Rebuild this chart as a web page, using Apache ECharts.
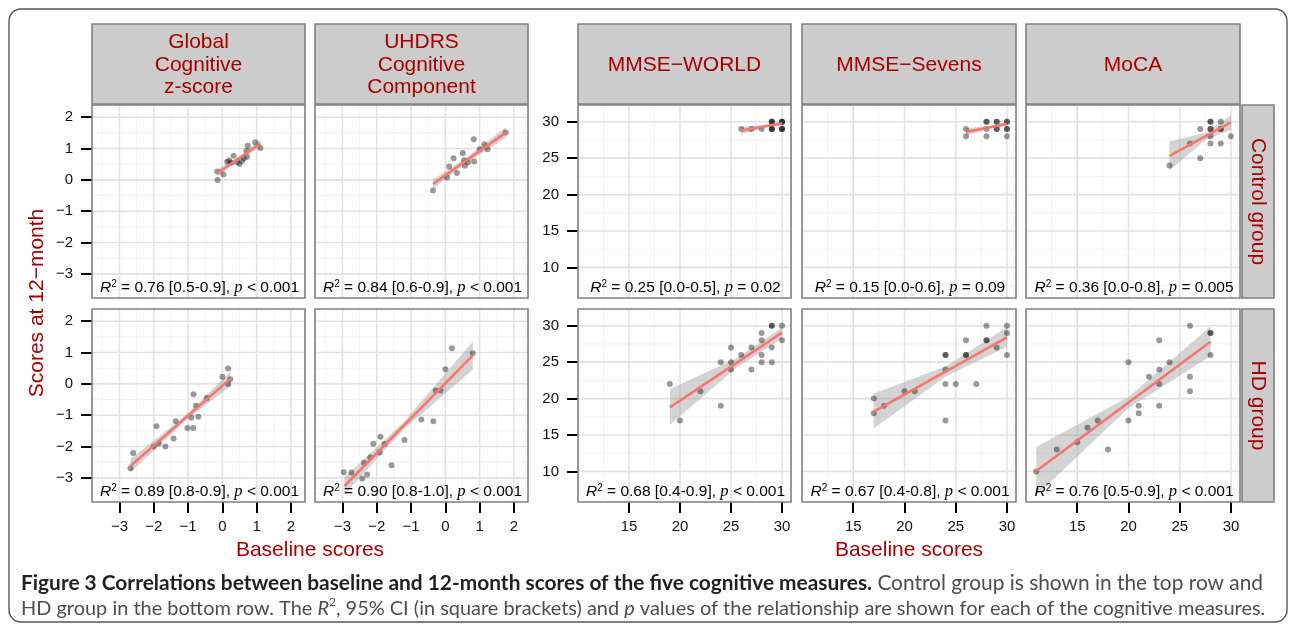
<!DOCTYPE html>
<html><head><meta charset="utf-8">
<script src="https://cdn.jsdelivr.net/npm/echarts@6/dist/echarts.min.js"></script>
<style>html,body{margin:0;padding:0;background:#fff}#c{width:1290px;height:630px}</style>
</head><body><div id="c"></div>
<script>
// ---------------- DATA ----------------
const panelTitles = ['Global\nCognitive\nz-score', 'UHDRS\nCognitive\nComponent', 'MMSE\u2212WORLD', 'MMSE\u2212Sevens', 'MoCA'];
const groupTitles = ['Control group', 'HD group'];
const yAxisTitle = 'Scores at 12\u2212month';
const xAxisTitle = 'Baseline scores';

const zTicks = [-3, -2, -1, 0, 1, 2];
const zMinor = [-3.5, -2.5, -1.5, -0.5, 0.5, 1.5];
const scoreXTicks = [15, 20, 25, 30];
const scoreXMinor = [12.5, 17.5, 22.5, 27.5];
const scoreYTicks = [10, 15, 20, 25, 30];
const scoreYMinor = [7.5, 12.5, 17.5, 22.5, 27.5];

// Control group (baseline x, 12-month y)
const globalCtrlX = [-0.15, -0.14, 0.03, 0.14, 0.2, 0.26, 0.33, 0.43, 0.5, 0.57, 0.63, 0.7, 0.72, 0.74, 0.96, 1.11];
const globalCtrlY = [0.27, 0.0, 0.17, 0.58, 0.62, 0.55, 0.77, 0.56, 0.51, 0.6, 0.68, 0.93, 0.74, 1.09, 1.2, 1.02];
const uhdrsCtrlX = [-0.36, 0.05, 0.11, 0.24, 0.34, 0.51, 0.55, 0.57, 0.66, 0.83, 0.84, 1.0, 1.14, 1.23, 1.76];
const uhdrsCtrlY = [-0.34, 0.08, 0.43, 0.69, 0.22, 0.86, 0.63, 0.45, 0.56, 1.3, 0.59, 0.98, 1.14, 0.98, 1.51];
const worldCtrlX = [26, 27, 28, 29, 29, 29, 29, 29, 29, 30, 30, 30, 30, 30, 30];
const worldCtrlY = [29, 29, 29, 30, 30, 30, 29, 29, 29, 30, 30, 30, 29, 29, 29];
const sevensCtrlX = [26, 26, 28, 28, 28, 28, 29, 29, 29, 29, 30, 30, 30, 30, 30];
const sevensCtrlY = [29, 28, 30, 30, 29, 28, 30, 30, 29, 29, 30, 30, 29, 29, 28];
const mocaCtrlX = [24, 26, 27, 27, 28, 28, 28, 28, 28, 28, 29, 29, 29, 29, 30];
const mocaCtrlY = [24, 27, 29, 25, 30, 30, 29, 29, 28, 27, 30, 29, 29, 27, 28];

// HD group
const globalHdX = [-2.68, -2.6, -2.0, -1.92, -1.85, -1.66, -1.42, -1.36, -1.02, -0.9, -0.85, -0.84, -0.77, -0.7, -0.45, 0.0, 0.17, 0.17, 0.23];
const globalHdY = [-2.69, -2.21, -2.0, -1.35, -1.9, -2.0, -1.74, -1.19, -1.41, -1.08, -1.41, -0.33, -0.7, -1.05, -0.45, 0.23, 0.49, 0.0, 0.15];
const uhdrsHdX = [-2.96, -2.74, -2.42, -2.37, -2.28, -2.19, -2.1, -1.92, -1.89, -1.77, -1.57, -1.19, -0.7, -0.35, -0.28, -0.14, 0.0, 0.19, 0.8];
const uhdrsHdY = [-2.82, -2.83, -3.02, -2.52, -2.89, -2.35, -1.91, -2.19, -1.69, -1.92, -2.6, -1.79, -1.14, -1.19, -0.21, -0.21, 0.47, 1.14, 0.98];
const worldHdX = [19, 20, 22, 24, 24, 25, 25, 25, 26, 27, 27, 28, 28, 28, 28, 29, 29, 29, 29, 30, 30];
const worldHdY = [22, 17, 21, 25, 19, 27, 25, 24, 26, 27, 24, 29, 28, 26, 25, 30, 30, 27, 25, 30, 28];
const sevensHdX = [17, 17, 18, 20, 21, 24, 24, 24, 24, 24, 25, 26, 26, 26, 27, 28, 28, 28, 29, 30, 30, 30];
const sevensHdY = [20, 18, 19, 21, 21, 26, 26, 24, 22, 17, 22, 28, 26, 26, 22, 30, 28, 28, 27, 30, 29, 26];
const mocaHdX = [11, 13, 15, 16, 17, 18, 20, 20, 21, 21, 22, 23, 23, 23, 23, 24, 26, 26, 26, 28, 28, 28];
const mocaHdY = [10, 13, 14, 16, 17, 13, 25, 17, 19, 18, 23, 28, 24, 22, 19, 25, 30, 23, 21, 29, 29, 26];

// Fitted lines
const ctrlFitStartX = [-0.15, -0.36, 26, 26, 24];
const ctrlFitEndX   = [1.11, 1.76, 30, 30, 30];
const ctrlFitStartY = [0.21, -0.13, 28.8, 28.6, 25.3];
const ctrlFitEndY   = [1.16, 1.51, 29.8, 29.7, 29.9];
const hdFitStartX = [-2.68, -2.94, 19, 17, 11];
const hdFitEndX   = [0.23, 0.80, 30, 30, 28];
const hdFitStartY = [-2.62, -3.26, 18.8, 18.2, 10.05];
const hdFitEndY   = [0.16, 0.91, 29.05, 28.4, 27.8];

// 95% confidence bands: [start, middle, end]
const ctrlBandMidX = [0.5, 0.6, 28.5, 28.5, 27.5];
const ctrlBandUpper = [[0.32, 0.76, 1.28], [0.02, 0.70, 1.68], [29.3, 29.6, 30.1], [29.1, 29.45, 30.0], [27.3, 28.5, 30.9]];
const ctrlBandLower = [[0.10, 0.64, 1.04], [-0.28, 0.52, 1.34], [28.3, 29.25, 29.5], [28.1, 29.1, 29.4], [23.3, 27.5, 28.9]];
const hdBandMidX = [-1.1, -1.2, 25.5, 24, 20];
const hdBandUpper = [[-2.40, -1.03, 0.38], [-2.98, -1.20, 1.35], [21.3, 25.5, 29.75], [20.7, 24.4, 29.8], [13.4, 20.2, 29.9]];
const hdBandLower = [[-2.84, -1.19, -0.08], [-3.52, -1.44, 0.45], [16.4, 24.2, 28.2], [15.9, 23.0, 27.1], [6.7, 18.7, 25.8]];

// Statistics text
const ctrlR2 = ['0.76', '0.84', '0.25', '0.15', '0.36'];
const ctrlCI = ['[0.5-0.9]', '[0.6-0.9]', '[0.0-0.5]', '[0.0-0.6]', '[0.0-0.8]'];
const ctrlP  = ['< 0.001', '< 0.001', '= 0.02', '= 0.09', '= 0.005'];
const hdR2 = ['0.89', '0.90', '0.68', '0.67', '0.76'];
const hdCI = ['[0.8-0.9]', '[0.8-1.0]', '[0.4-0.9]', '[0.4-0.8]', '[0.5-0.9]'];
const hdP  = ['< 0.001', '< 0.001', '< 0.001', '< 0.001', '< 0.001'];

const capLine1Bold = 'Figure 3 Correlations between baseline and 12-month scores of the five cognitive measures.';
const capLine1Rest = ' Control group is shown in the top row and';
const capLine2a = 'HD group in the bottom row. The ';
const capLine2b = ', 95% CI (in square brackets) and ';
const capLine2c = ' values of the relationship are shown for each of the cognitive measures.';

// ---------------- LAYOUT ----------------
const FONT = 'Liberation Sans';
const RED = '#a80000';
const cols = [{l: 92, w: 213}, {l: 315, w: 213}, {l: 578, w: 213}, {l: 802, w: 214}, {l: 1026, w: 214}];
const rows = [{t: 105, h: 193}, {t: 309, h: 193}];
const zXRange = [-3.8, 2.41], zYRange = [-3.77, 2.39];
const sXRange = [10.0, 30.88], sYRange = [5.8, 32.3];

const ctrlData = [[globalCtrlX, globalCtrlY], [uhdrsCtrlX, uhdrsCtrlY], [worldCtrlX, worldCtrlY], [sevensCtrlX, sevensCtrlY], [mocaCtrlX, mocaCtrlY]];
const hdData = [[globalHdX, globalHdY], [uhdrsHdX, uhdrsHdY], [worldHdX, worldHdY], [sevensHdX, sevensHdY], [mocaHdX, mocaHdY]];

const minus = v => (v < 0 ? '\u2212' + Math.abs(v) : String(v));

const grids = [], xAxes = [], yAxes = [], series = [], graphics = [];

function gridRender(xMaj, xMin, yMaj, yMin, xr, yr) {
  return function (params, api) {
    const cs = params.coordSys;
    const ch = [];
    const v = (val, major) => {
      const x = api.coord([val, yr[0]])[0];
      ch.push({type: 'line', shape: {x1: x, y1: cs.y, x2: x, y2: cs.y + cs.height},
        style: {stroke: major ? '#e2e2e2' : '#f0f0f0', lineWidth: major ? 1.6 : 0.9}});
    };
    const h = (val, major) => {
      const y = api.coord([xr[0], val])[1];
      ch.push({type: 'line', shape: {x1: cs.x, y1: y, x2: cs.x + cs.width, y2: y},
        style: {stroke: major ? '#e2e2e2' : '#f0f0f0', lineWidth: major ? 1.6 : 0.9}});
    };
    xMin.forEach(a => v(a, false)); yMin.forEach(a => h(a, false));
    xMaj.forEach(a => v(a, true)); yMaj.forEach(a => h(a, true));
    return {type: 'group', children: ch};
  };
}

function bandRender(bx, hi, lo) {
  return function (params, api) {
    const pts = [];
    for (let i = 0; i < bx.length; i++) pts.push(api.coord([bx[i], hi[i]]));
    for (let i = bx.length - 1; i >= 0; i--) pts.push(api.coord([bx[i], lo[i]]));
    return {type: 'polygon', shape: {points: pts}, style: {fill: 'rgba(153,153,153,0.42)'}};
  };
}

for (let r = 0; r < 2; r++) {
  for (let c = 0; c < 5; c++) {
    const idx = r * 5 + c;
    const isZ = c < 2;
    const xr = isZ ? zXRange : sXRange, yr = isZ ? zYRange : sYRange;
    const xt = isZ ? zTicks : scoreXTicks, yt = isZ ? zTicks : scoreYTicks;
    const xm = isZ ? zMinor : scoreXMinor, ym = isZ ? zMinor : scoreYMinor;
    const showX = r === 1, showY = (c === 0 || c === 2);
    grids.push({left: cols[c].l, top: rows[r].t, width: cols[c].w, height: rows[r].h,
      show: true, backgroundColor: '#fff', borderWidth: 0});
    xAxes.push({type: 'value', gridIndex: idx, min: xr[0], max: xr[1], position: 'bottom',
      axisLine: {show: false, onZero: false}, splitLine: {show: false},
      axisTick: {show: showX, length: 11, customValues: xt, lineStyle: {color: '#000', width: 2}},
      axisLabel: {show: showX, customValues: xt, margin: 17, color: '#111', fontSize: 15, fontFamily: FONT, formatter: minus}});
    yAxes.push({type: 'value', gridIndex: idx, min: yr[0], max: yr[1], position: 'left',
      axisLine: {show: false, onZero: false}, splitLine: {show: false},
      axisTick: {show: showY, length: 11, customValues: yt, lineStyle: {color: '#000', width: 2}},
      axisLabel: {show: showY, customValues: yt, margin: 19, color: '#111', fontSize: 15, fontFamily: FONT, formatter: minus}});

    const d = r === 0 ? ctrlData[c] : hdData[c];
    const fsx = r === 0 ? ctrlFitStartX : hdFitStartX, fex = r === 0 ? ctrlFitEndX : hdFitEndX;
    const fsy = r === 0 ? ctrlFitStartY : hdFitStartY, fey = r === 0 ? ctrlFitEndY : hdFitEndY;
    const bm = r === 0 ? ctrlBandMidX : hdBandMidX;
    const bu = r === 0 ? ctrlBandUpper : hdBandUpper, bl = r === 0 ? ctrlBandLower : hdBandLower;

    series.push({type: 'custom', xAxisIndex: idx, yAxisIndex: idx, silent: true, z: 1,
      data: [[xr[0], yr[0]]], renderItem: gridRender(xt, xm, yt, ym, xr, yr)});
    series.push({type: 'custom', xAxisIndex: idx, yAxisIndex: idx, silent: true, z: 2,
      data: [[fsx[c], fsy[c]]], renderItem: bandRender([fsx[c], bm[c], fex[c]], bu[c], bl[c])});
    series.push({type: 'scatter', xAxisIndex: idx, yAxisIndex: idx, z: 3, symbolSize: 6,
      itemStyle: {color: 'rgba(0,0,0,0.5)'}, data: d[0].map((x, i) => [x, d[1][i]])});
    series.push({type: 'line', xAxisIndex: idx, yAxisIndex: idx, z: 4, symbol: 'none',
      lineStyle: {color: '#F8766D', width: 2.6}, data: [[fsx[c], fsy[c]], [fex[c], fey[c]]]});

    // panel border
    graphics.push({type: 'rect', z: 50, shape: {x: cols[c].l, y: rows[r].t, width: cols[c].w, height: rows[r].h},
      style: {fill: 'none', stroke: '#808080', lineWidth: 1.6}});
    // stats annotation
    const r2 = r === 0 ? ctrlR2[c] : hdR2[c], ci = r === 0 ? ctrlCI[c] : hdCI[c], pv = r === 0 ? ctrlP[c] : hdP[c];
    graphics.push({type: 'text', z: 60, x: cols[c].l + cols[c].w / 2 + 1, y: rows[r].t + rows[r].h - 10,
      style: {text: '{i|R}{s|2}{n| = ' + r2 + ' ' + ci + ', }{p|p}{n| ' + pv + '}',
        align: 'center', verticalAlign: 'middle', textAlign: 'center', textVerticalAlign: 'middle',
        rich: {
          n: {fontSize: 15.5, fontFamily: FONT, fill: '#000', lineHeight: 18},
          i: {fontSize: 15.5, fontFamily: FONT, fontStyle: 'italic', fill: '#000', lineHeight: 18},
          s: {fontSize: 10, fontFamily: FONT, fill: '#000', lineHeight: 18, verticalAlign: 'top'},
          p: {fontSize: 16.5, fontFamily: 'Liberation Serif', fontStyle: 'italic', fill: '#000', lineHeight: 18}
        }}});
  }
}

// top strips
for (let c = 0; c < 5; c++) {
  graphics.push({type: 'rect', z: 40, shape: {x: cols[c].l, y: 24, width: cols[c].w, height: 80},
    style: {fill: '#cccccc', stroke: '#808080', lineWidth: 1.6}});
  graphics.push({type: 'text', z: 45, x: cols[c].l + cols[c].w / 2, y: 65,
    style: {text: panelTitles[c], fill: RED, fontSize: 21, fontFamily: FONT, lineHeight: 22.5,
      align: 'center', verticalAlign: 'middle', textAlign: 'center', textVerticalAlign: 'middle'}});
}
// right strips
for (let r = 0; r < 2; r++) {
  graphics.push({type: 'rect', z: 40, shape: {x: 1242, y: rows[r].t, width: 32, height: rows[r].h},
    style: {fill: '#cccccc', stroke: '#808080', lineWidth: 1.6}});
  graphics.push({type: 'text', z: 45, x: 1258, y: rows[r].t + rows[r].h / 2, rotation: -Math.PI / 2,
    style: {text: groupTitles[r], fill: RED, fontSize: 21, fontFamily: FONT,
      align: 'center', verticalAlign: 'middle', textAlign: 'center', textVerticalAlign: 'middle'}});
}
// axis titles
graphics.push({type: 'text', z: 45, x: 37, y: 303, rotation: Math.PI / 2,
  style: {text: yAxisTitle, fill: RED, fontSize: 21, fontFamily: FONT,
    align: 'center', verticalAlign: 'middle', textAlign: 'center', textVerticalAlign: 'middle'}});
[[310, 550], [909, 550]].forEach(p => graphics.push({type: 'text', z: 45, x: p[0], y: p[1],
  style: {text: xAxisTitle, fill: RED, fontSize: 21, fontFamily: FONT,
    align: 'center', verticalAlign: 'middle', textAlign: 'center', textVerticalAlign: 'middle'}}));

// outer frame
graphics.push({type: 'rect', z: 30, shape: {x: 9, y: 9, width: 1278, height: 613, r: 12},
  style: {fill: 'none', stroke: '#555', lineWidth: 1.4}});

// caption
const capFamily = 'Lato';
const ctx = document.createElement('canvas').getContext('2d');
function tw(t, weight, style) { ctx.font = (style || 'normal') + ' normal ' + (weight || 'normal') + ' 20px ' + capFamily; return ctx.measureText(t).width; }
const w1 = tw(capLine1Bold, 'bold') + tw(capLine1Rest);
const w2 = tw(capLine2a) + tw('R', 'normal', 'italic') + tw('2') * 0.6 + tw(capLine2b) + tw('p', 'normal', 'italic') + tw(capLine2c);
const s1 = 20 * 1243 / w1, s2 = 20 * 1245 / w2;
const capRich = s => ({
  b: {fontSize: s, fontFamily: capFamily, fontWeight: 'bold', fill: '#231f20', lineHeight: s * 1.3},
  r: {fontSize: s, fontFamily: capFamily, fill: '#4d4d4f', lineHeight: s * 1.3},
  ri: {fontSize: s, fontFamily: capFamily, fontStyle: 'italic', fill: '#4d4d4f', lineHeight: s * 1.3},
  rs: {fontSize: s * 0.6, fontFamily: capFamily, fill: '#4d4d4f', lineHeight: s * 1.3, verticalAlign: 'top'}
});
graphics.push({type: 'text', z: 45, x: 21, y: 583,
  style: {text: '{b|' + capLine1Bold + '}{r|' + capLine1Rest + '}', rich: capRich(s1),
    align: 'left', verticalAlign: 'middle', textAlign: 'left', textVerticalAlign: 'middle'}});
graphics.push({type: 'text', z: 45, x: 21, y: 609,
  style: {text: '{r|' + capLine2a + '}{ri|R}{rs|2}{r|' + capLine2b + '}{ri|p}{r|' + capLine2c + '}', rich: capRich(s2),
    align: 'left', verticalAlign: 'middle', textAlign: 'left', textVerticalAlign: 'middle'}});

const chart = echarts.init(document.getElementById('c'), null, {renderer: 'canvas'});
chart.setOption({
  animation: false,
  backgroundColor: '#fff',
  grid: grids, xAxis: xAxes, yAxis: yAxes, series: series,
  graphic: {elements: graphics}
});
</script></body></html>
